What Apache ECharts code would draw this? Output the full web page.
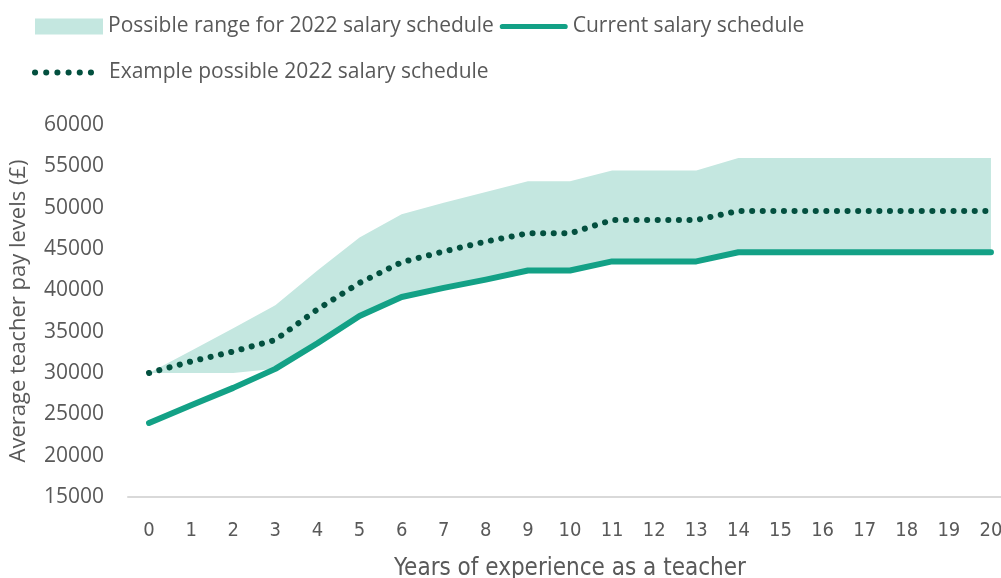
<!DOCTYPE html>
<html lang="en">
<head>
    <meta charset="UTF-8">
    <title>Teacher salary schedule</title>
</head>
<body style="margin:0">
<div id="main" style="width: 1001px;height:578px;"></div>
<script type="text/javascript" src="https://cdn.jsdelivr.net/npm/echarts@6/dist/echarts.min.js"></script>
<script type="text/javascript">

    // data
    var years = ['0','1','2','3','4','5','6','7','8','9','10','11','12','13','14','15','16','17','18','19','20'];
    var currentSalary = [23950, 26100, 28200, 30500, 33600, 36900, 39200, 40300, 41300, 42400, 42400, 43500, 43500, 43500, 44600, 44600, 44600, 44600, 44600, 44600, 44600];
    var exampleSalary = [30000, 31400, 32600, 34000, 37700, 40900, 43400, 44700, 45900, 46900, 46900, 48500, 48500, 48500, 49600, 49600, 49600, 49600, 49600, 49600, 49600];
    var rangeLow = [30000, 30000, 30000, 30500, 33600, 36900, 39200, 40300, 41300, 42400, 42400, 43500, 43500, 43500, 44600, 44600, 44600, 44600, 44600, 44600, 44600];
    var rangeHigh = [30000, 32700, 35400, 38200, 42400, 46400, 49200, 50600, 51900, 53200, 53200, 54500, 54500, 54500, 56000, 56000, 56000, 56000, 56000, 56000, 56000];

    var rangeSpan = rangeHigh.map(function (v, i) { return v - rangeLow[i]; });

    var textColor = '#595959';
    var mainFont = '"Open Sans", sans-serif';
    var narrowFont = '"Liberation Sans Narrow", "DejaVu Sans Condensed", sans-serif';

    // dotted legend icon: six small dots
    var dots = '';
    for (var d = 0; d < 6; d++) {
        var cx = 3 + d * 11;
        dots += 'M' + (cx - 3) + ',3 a3,3 0 1,0 6,0 a3,3 0 1,0 -6,0 ';
    }

    var myChart = echarts.init(document.getElementById('main'));

    myChart.setOption({
        animation: false,
        legend: [
            {
                left: 35,
                top: 16,
                padding: 0,
                itemWidth: 68,
                itemHeight: 16,
                itemGap: 6,
                textStyle: {color: textColor, fontSize: 21, fontFamily: mainFont},
                data: [
                    {name: 'Possible range for 2022 salary schedule', icon: 'rect'},
                    {name: 'Current salary schedule', icon: 'path://M3,0 L75,0 A3,3 0 0,1 75,6 L3,6 A3,3 0 0,1 3,0 Z'}
                ]
            },
            {
                left: 32,
                top: 62,
                padding: 0,
                itemWidth: 62,
                itemHeight: 16,
                textStyle: {color: textColor, fontSize: 21, fontFamily: mainFont, padding: [0, 0, 0, 10]},
                data: [
                    {name: 'Example possible 2022 salary schedule', icon: 'path://' + dots}
                ]
            }
        ],
        grid: {
            left: 128,
            top: 125,
            width: 884,
            bottom: 81,
            containLabel: false,
            outerBoundsMode: 'none'
        },
        xAxis: {
            type: 'category',
            data: years,
            boundaryGap: true,
            name: 'Years of experience as a teacher',
            nameLocation: 'middle',
            nameGap: 60,
            nameTextStyle: {color: textColor, fontSize: 24, fontFamily: narrowFont},
            axisLine: {lineStyle: {color: '#d9d9d9', width: 2}},
            axisTick: {show: false},
            axisLabel: {color: textColor, fontSize: 20, fontFamily: narrowFont, margin: 24, interval: 0}
        },
        yAxis: {
            type: 'value',
            min: 15000,
            max: 60000,
            interval: 5000,
            name: 'Average teacher pay levels (£)',
            nameLocation: 'middle',
            nameGap: 98,
            nameTextStyle: {color: textColor, fontSize: 22, fontFamily: mainFont},
            axisLine: {show: false},
            axisTick: {show: false},
            splitLine: {show: false},
            axisLabel: {
                color: textColor, fontSize: 21, fontFamily: mainFont, margin: 24,
                formatter: function (v) { return String(v); }
            }
        },
        series: [
            {
                name: 'rangeLow',
                type: 'line',
                stack: 'range',
                data: rangeLow,
                symbol: 'none',
                lineStyle: {opacity: 0},
                silent: true
            },
            {
                name: 'Possible range for 2022 salary schedule',
                type: 'line',
                stack: 'range',
                data: rangeSpan,
                symbol: 'none',
                itemStyle: {color: '#c4e7e0'},
                lineStyle: {opacity: 0},
                areaStyle: {color: '#c4e7e0', opacity: 1}
            },
            {
                name: 'Current salary schedule',
                type: 'line',
                data: currentSalary,
                symbol: 'none',
                itemStyle: {color: '#13a186'},
                lineStyle: {color: '#13a186', width: 6, cap: 'round', join: 'round'}
            },
            {
                name: 'Example possible 2022 salary schedule',
                type: 'line',
                data: exampleSalary,
                symbol: 'none',
                itemStyle: {color: '#03503f'},
                lineStyle: {color: '#03503f', width: 6, type: [0.1, 10.5], cap: 'round'}
            }
        ]
    });
</script>
</body>
</html>
